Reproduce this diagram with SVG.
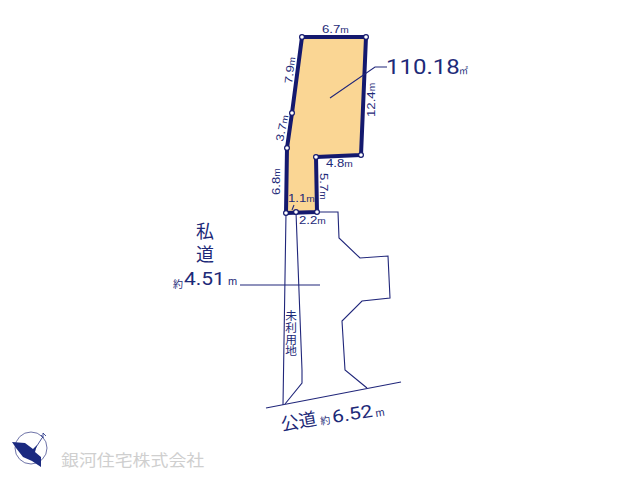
<svg xmlns="http://www.w3.org/2000/svg" width="640" height="480" viewBox="0 0 640 480">
<style>
text{font-family:"Liberation Sans","Noto Sans CJK JP",sans-serif;fill:#1d2a78}
.j{font-family:"Noto Sans CJK JP",sans-serif}
.big{font-family:Roboto,"Liberation Sans",sans-serif;font-weight:400}
.thin{fill:none;stroke:#20267a;stroke-width:1.1}
.dot{fill:#fff;stroke:#14196e;stroke-width:1.2}
.s{font-size:11px}
.u{font-size:8.5px}
</style>
<rect width="640" height="480" fill="#fff"/>
<g id="lot">
<polygon points="302,37 366,37 361,155 316,157 317,212 286,213 287,148 292,113" fill="#fad694" stroke="#14196e" stroke-width="4" stroke-linejoin="round"/>
</g>
<g id="connectors">
<path class="thin" d="M286,213 L283,405 M296,212 L302,370 L302,383 L285,404"/>
<path class="thin" d="M317,212 H338 L339,238 L360,258 L388,256 L390,298 L362,301 L342,321 L345,370 L367,388"/>
<path class="thin" d="M266,408 L401,382"/>
<path class="thin" d="M240,285 H320"/>
<path class="thin" d="M330,98 L375,67 H387"/>
<path class="thin" d="M292,210 L294,205" stroke-width="0.8"/>
</g>
<g id="vertices">
<circle class="dot" cx="302" cy="37" r="2.4"/>
<circle class="dot" cx="366" cy="37" r="2.4"/>
<circle class="dot" cx="361" cy="155" r="2.4"/>
<circle class="dot" cx="316" cy="157" r="2.4"/>
<circle class="dot" cx="317" cy="212" r="2.4"/>
<circle class="dot" cx="296" cy="212" r="2.4"/>
<circle class="dot" cx="286" cy="213" r="2.4"/>
<circle class="dot" cx="287" cy="148" r="2.4"/>
<circle class="dot" cx="292" cy="113" r="2.4"/>
</g>
<g id="labels">
<text class="s" transform="translate(322,33) scale(1.2,1)">6.7<tspan class="u">m</tspan></text>
<text class="s" transform="translate(292,84) rotate(-83) scale(1.2,1)">7.9<tspan class="u">m</tspan></text>
<text class="s" transform="translate(283,142) rotate(-78) scale(1.2,1)">3.7<tspan class="u">m</tspan></text>
<text class="s" transform="translate(280,195) rotate(-90) scale(1.2,1)">6.8<tspan class="u">m</tspan></text>
<text class="s" transform="translate(375,117) rotate(-90) scale(1.2,1)">12.4<tspan class="u">m</tspan></text>
<text class="s" transform="translate(326,167) scale(1.2,1)">4.8<tspan class="u">m</tspan></text>
<text class="s" transform="translate(320,173) rotate(90) scale(1.2,1)">5.7<tspan class="u">m</tspan></text>
<text class="s" transform="translate(288,202) scale(1.2,1)">1.1<tspan class="u">m</tspan></text>
<text class="s" transform="translate(299,224) scale(1.2,1)">2.2<tspan class="u">m</tspan></text>
<text class="big" transform="translate(386,74) scale(1.2,1)" font-size="20">110.18</text>
<text x="459" y="74" font-size="9">㎡</text>
<text class="j" x="205" y="222" font-size="18" style="writing-mode:vertical-rl;letter-spacing:5px">私道</text>
<text class="j" x="173" y="288" font-size="10">約</text>
<text class="big" transform="translate(184,285) scale(1.2,1)" font-size="17.5">4.51</text>
<text x="228" y="285" font-size="11">m</text>
<text class="j" x="291" y="310" font-size="11.7" style="writing-mode:vertical-rl">未利用地</text>
<text class="j" transform="translate(282,431) rotate(-10)" font-size="18">公道</text>
<text class="j" transform="translate(321,425) rotate(-10)" font-size="10">約</text>
<text class="big" transform="translate(333,423) rotate(-9) scale(1.2,1)" font-size="17.5">6.52</text>
<text transform="translate(376,417) rotate(-9)" font-size="11">m</text>
</g>
<g id="logo">
<circle cx="31" cy="448" r="16" fill="none" stroke="#6f74a8" stroke-width="1"/>
<polygon points="12,442 25,443 33,449 37,445 35,452 41,457 41,467 32,461 23,457 16,448" fill="#1b2a80"/>
<path d="M31,455 L42,438 M41,435 L43,438 L43,433 L46,436" fill="none" stroke="#1b2a80" stroke-width="0.8"/>
<text class="j" transform="translate(61,466) scale(1.12,1)" font-size="16" style="fill:#cfcfcf">銀河住宅株式会社</text>
</g>
</svg>
